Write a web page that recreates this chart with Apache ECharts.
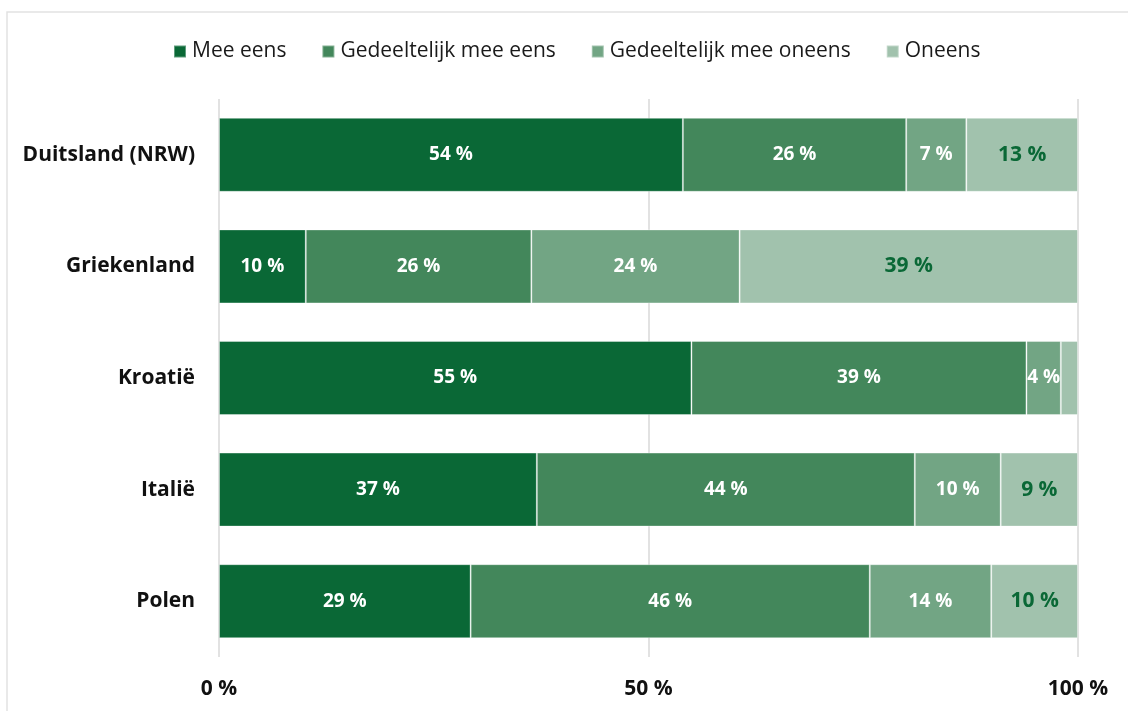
<!DOCTYPE html>
<html>
<head>
<meta charset="utf-8">
<style>
  html, body { margin: 0; padding: 0; background: #ffffff; }
  #chart { width: 1128px; height: 711px; }
</style>
<script src="https://cdn.jsdelivr.net/npm/echarts@6/dist/echarts.min.js"></script>
</head>
<body>
<div id="chart"></div>
<script>
// Answer shares per country (percent of respondents)
const countries = ['Duitsland (NRW)', 'Griekenland', 'Kroatië', 'Italië', 'Polen'];
const seriesNames = ['Mee eens', 'Gedeeltelijk mee eens', 'Gedeeltelijk mee oneens', 'Oneens'];
const meeEens = [54, 10, 55, 37, 29];
const deelsMeeEens = [26, 26, 39, 44, 46];
const deelsMeeOneens = [7, 24, 4, 10, 14];
const oneens = [13, 39, 2, 9, 10];
const xTicks = [0, 50, 100];

const colors = ['#0a6836', '#43875b', '#72a584', '#a1c2ad'];
const labelColors = ['#ffffff', '#ffffff', '#ffffff', '#0a6836'];
const labelSizes = [19, 19, 19, 21];

const raw = [meeEens, deelsMeeEens, deelsMeeOneens, oneens];
// Each row is drawn as a 100 % stacked bar
const rowTotals = countries.map((_, i) => raw.reduce((s, arr) => s + arr[i], 0));

const FONT = '"Open Sans", "Noto Sans", sans-serif';

const series = raw.map((arr, k) => ({
  name: seriesNames[k],
  type: 'bar',
  stack: 'total',
  barWidth: 74,
  itemStyle: { color: colors[k], borderColor: 'rgba(255,255,255,0.35)', borderWidth: 1 },
  label: {
    show: true,
    position: 'inside',
    color: labelColors[k],
    fontFamily: FONT,
    fontWeight: 'bold',
    fontSize: labelSizes[k],
    formatter: p => (arr[p.dataIndex] >= 3 ? arr[p.dataIndex] + ' %' : '')
  },
  emphasis: { disabled: true },
  data: arr.map((v, i) => v / rowTotals[i] * 100)
}));

const chart = echarts.init(document.getElementById('chart'), null, { renderer: 'canvas' });
chart.setOption({
  animation: false,
  backgroundColor: '#ffffff',
  graphic: [{
    type: 'rect',
    shape: { x: 7, y: 12, width: 1200, height: 800 },
    style: { fill: 'none', stroke: '#e2e2e2', lineWidth: 1.5 },
    silent: true,
    z: -1
  }],
  legend: {
    top: 36,
    left: 168,
    itemWidth: 12,
    itemHeight: 12,
    itemGap: 35,
    icon: 'rect',
    textStyle: { fontFamily: FONT, fontSize: 21, color: '#1a1a1a', padding: [0, 0, 0, 1] },
    data: seriesNames
  },
  grid: { left: 219, right: 50, top: 99, bottom: 54, containLabel: false },
  xAxis: {
    type: 'value',
    min: xTicks[0],
    max: xTicks[xTicks.length - 1],
    interval: xTicks[1] - xTicks[0],
    axisLine: { show: false },
    axisTick: { show: false },
    splitLine: { show: true, lineStyle: { color: '#d9d9d9', width: 1.5 } },
    axisLabel: {
      margin: 22,
      fontFamily: FONT,
      fontSize: 21,
      fontWeight: 'bold',
      color: '#111111',
      formatter: v => v + ' %'
    }
  },
  yAxis: {
    type: 'category',
    inverse: true,
    data: countries,
    axisLine: { show: false },
    axisTick: { show: false },
    splitLine: { show: false },
    axisLabel: {
      margin: 24,
      fontFamily: FONT,
      fontSize: 21,
      fontWeight: 'bold',
      color: '#111111'
    }
  },
  series: series
});
</script>
</body>
</html>
